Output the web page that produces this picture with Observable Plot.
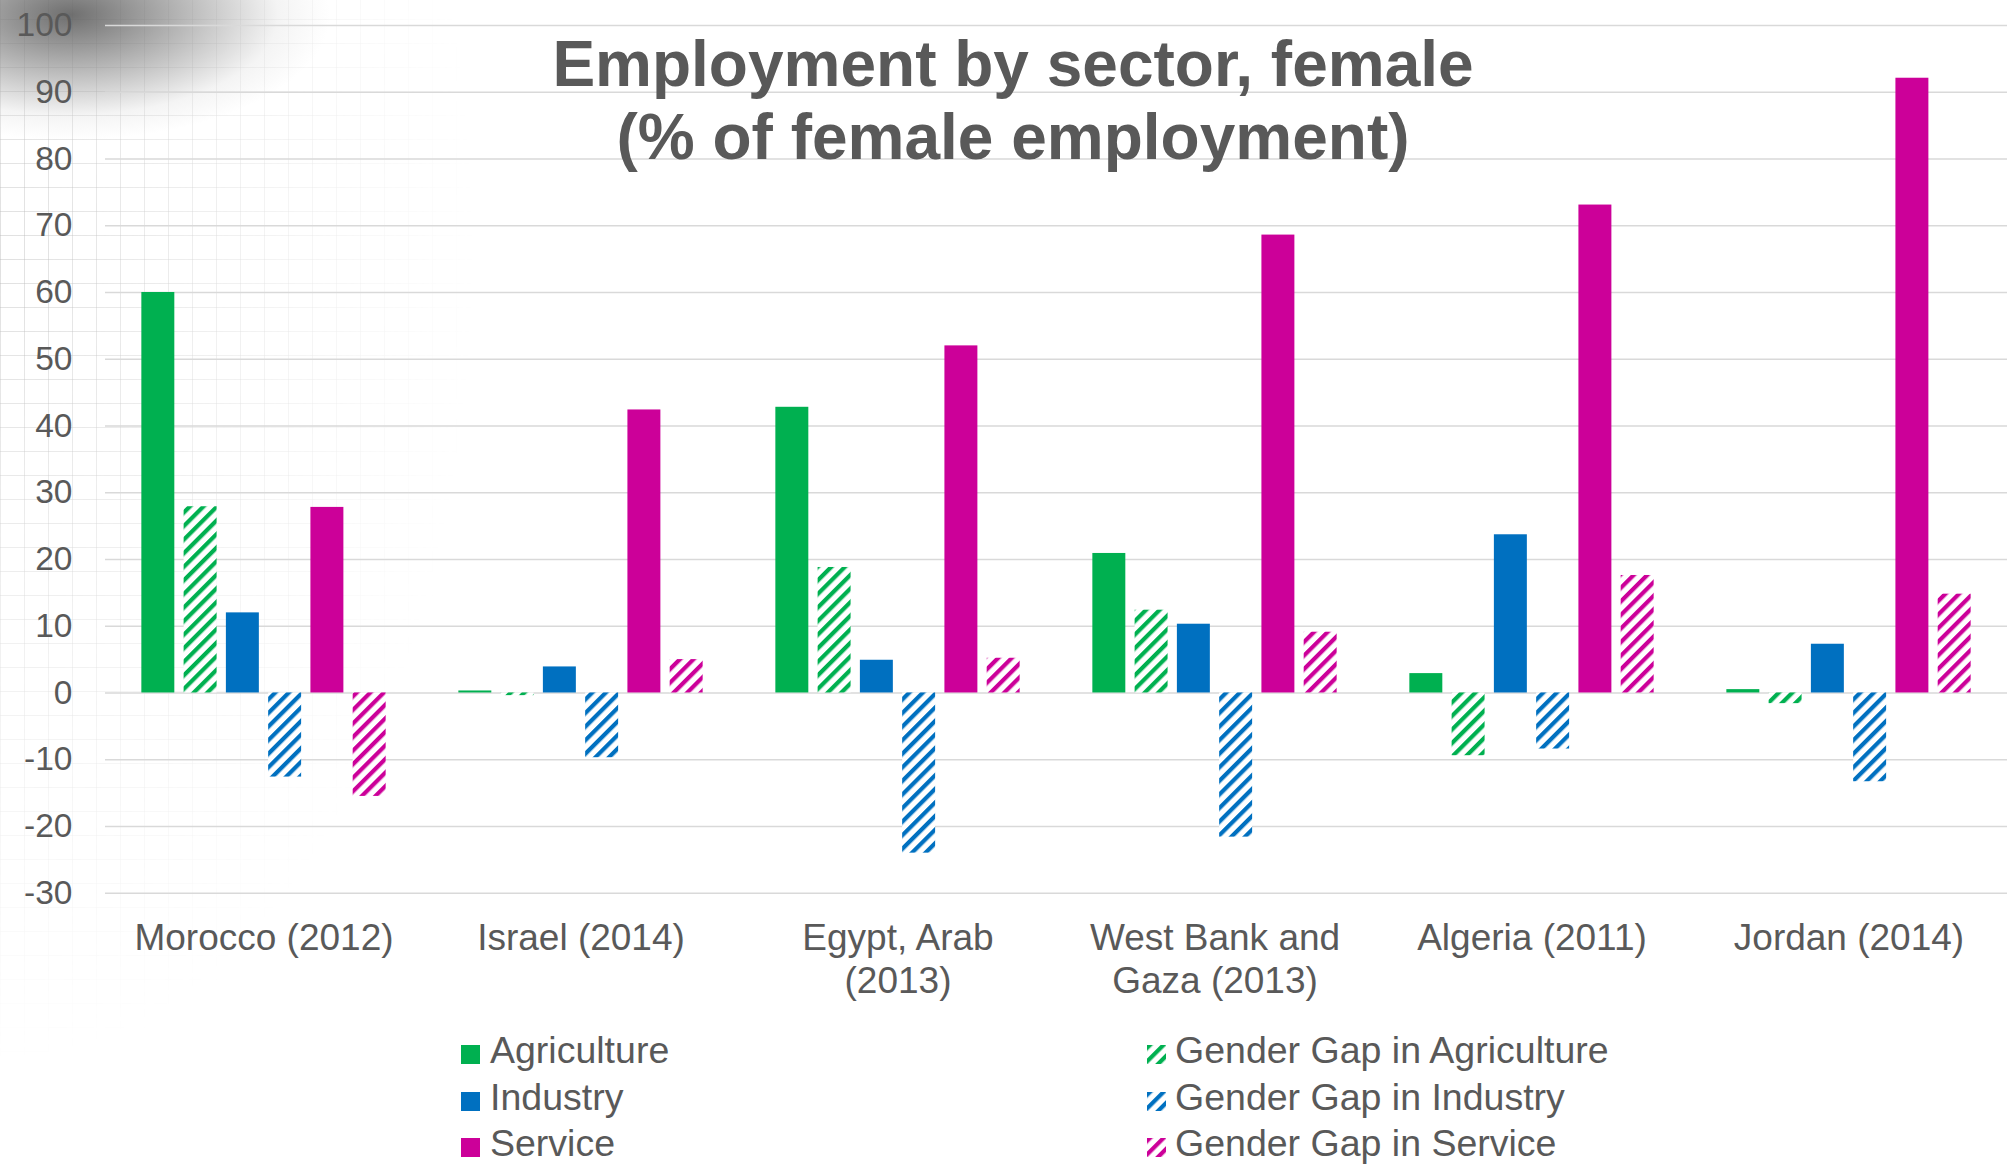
<!DOCTYPE html>
<html>
<head>
<meta charset="utf-8">
<script src="https://cdn.jsdelivr.net/npm/d3@7"></script>
<script src="https://cdn.jsdelivr.net/npm/@observablehq/plot@0.6"></script>
<style>
  html, body { margin: 0; padding: 0; background: #fff; overflow: hidden; }
  #wrap { position: relative; width: 2007px; height: 1166px; overflow: hidden; font-family: "Liberation Sans", Arial, sans-serif; color: #595959; }
  #bg { position: absolute; left: 0; top: 0; width: 2007px; height: 1166px; }
  #grid { position: absolute; left: 0; top: 0; width: 700px; height: 1100px;
    background-image:
      repeating-linear-gradient(90deg, rgba(170,170,170,0.4) 0 1.5px, transparent 1.5px 24px),
      repeating-linear-gradient(0deg, rgba(170,170,170,0.4) 0 1.5px, transparent 1.5px 24px);
    -webkit-mask-image: radial-gradient(ellipse 480px 820px at 0px 250px, rgba(0,0,0,0.9) 0%, rgba(0,0,0,0.4) 50%, transparent 100%);
    mask-image: radial-gradient(ellipse 480px 820px at 0px 250px, rgba(0,0,0,0.9) 0%, rgba(0,0,0,0.4) 50%, transparent 100%);
  }
  #blob { position: absolute; left: 0; top: 0; width: 2007px; height: 1166px;
    background: radial-gradient(ellipse 260px 125px at 70px 15px, rgba(95,95,95,0.9) 0%, rgba(140,140,140,0.6) 45%, rgba(200,200,200,0.2) 80%, transparent 100%);
  }
  #chart { position: absolute; left: 0; top: 0; }
  #title { position: absolute; left: 1013px; top: 27.5px; transform: translateX(-50%); white-space: nowrap; text-align: center;
    font-weight: bold; font-size: 64px; line-height: 73px; color: #595959; }
  .lg-sw { position: absolute; width: 19px; height: 19px; }
  .lg-tx { position: absolute; font-size: 37.5px; line-height: 37.5px; white-space: nowrap; color: #595959; }
</style>
</head>
<body>
<div id="wrap">
  <div id="bg"><div id="grid"></div><div id="blob"></div></div>
  <svg width="0" height="0" style="position:absolute">
    <defs id="patdefs"></defs>
  </svg>
  <div id="chart"></div>
  <div id="title">Employment by sector, female<br>(% of female employment)</div>
  <div id="legend"></div>
</div>
<script>
// ---- data ----
const countries = ["Morocco (2012)", "Israel (2014)", "Egypt, Arab\n(2013)", "West Bank and\nGaza (2013)", "Algeria (2011)", "Jordan (2014)"];
const series = ["Agriculture", "Gender Gap in Agriculture", "Industry", "Gender Gap in Industry", "Service", "Gender Gap in Service"];
const agriculture   = [60.0, 0.3, 42.8, 20.9, 2.9, 0.5];
const gapAgriculture = [27.9, -0.4, 18.8, 12.4, -9.4, -1.6];
const industry      = [12.0, 3.9, 4.9, 10.3, 23.7, 7.3];
const gapIndustry   = [-12.6, -9.7, -24.0, -21.6, -8.4, -13.3];
const service       = [27.8, 42.4, 52.0, 68.6, 73.1, 92.1];
const gapService    = [-15.5, 5.0, 5.2, 9.1, 17.6, 14.8];
const yTicks = [-30, -20, -10, 0, 10, 20, 30, 40, 50, 60, 70, 80, 90, 100];

// ---- styling ----
const baseColors = {green: "#00B050", blue: "#0070C0", magenta: "#CC0099"};
const seriesFill = {
  "Agriculture": baseColors.green,
  "Gender Gap in Agriculture": "url(#hatch-green)",
  "Industry": baseColors.blue,
  "Gender Gap in Industry": "url(#hatch-blue)",
  "Service": baseColors.magenta,
  "Gender Gap in Service": "url(#hatch-magenta)"
};

// hatch patterns
const defs = d3.select("#patdefs");
for (const [name, col] of Object.entries(baseColors)) {
  const p = defs.append("pattern")
    .attr("id", "hatch-" + name)
    .attr("patternUnits", "userSpaceOnUse")
    .attr("width", 9.6).attr("height", 9.6)
    .attr("patternTransform", "rotate(45)");
  p.append("rect").attr("width", 9.6).attr("height", 9.6).attr("fill", "#fff");
  p.append("rect").attr("width", 4.2).attr("height", 9.6).attr("fill", col);
}

const valueArrays = [agriculture, gapAgriculture, industry, gapIndustry, service, gapService];
const rows = [];
countries.forEach((c, i) => series.forEach((s, j) => rows.push({country: c, series: s, value: valueArrays[j][i]})));

const H = 1010;
const chart = Plot.plot({
  width: 2007,
  height: H,
  marginTop: 25,
  marginBottom: H - 892.7,
  marginLeft: 104,
  marginRight: 0,
  style: {background: "transparent", fontFamily: "'Liberation Sans', Arial, sans-serif", color: "#595959", overflow: "visible"},
  fx: {domain: countries, padding: 0, axis: null, label: null},
  x: {domain: series, paddingInner: 0.22, paddingOuter: 0.86, round: false, axis: null},
  y: {domain: [-30, 100], axis: null},
  color: {type: "identity"},
  marks: [
    Plot.gridY(yTicks, {stroke: "#d9d9d9", strokeOpacity: 1, strokeWidth: 1.6}),
    Plot.barY(rows, {fx: "country", x: "series", y: "value", fill: d => seriesFill[d.series]}),
    Plot.axisY(yTicks, {tickSize: 0, tickPadding: 33, fontSize: 33.5, fill: "#595959", tickFormat: d => String(d), label: null}),
    Plot.text(countries, {fx: d => d, text: d => d, frameAnchor: "bottom", lineAnchor: "top", dy: 26.2, fontSize: 37, lineHeight: 1.162, fill: "#595959"})
  ]
});
document.getElementById("chart").appendChild(chart);

// ---- legend ----
const legend = d3.select("#legend");
const legendCols = [
  {swX: 461, txX: 490, items: [series[0], series[2], series[4]]},
  {swX: 1147, txX: 1175, items: [series[1], series[3], series[5]]}
];
const fs = 37.5;
legendCols.forEach(col => {
  col.items.forEach((name, i) => {
    const base = 1064 + 46.5 * i;
    const sw = legend.append("svg").attr("class", "lg-sw")
      .style("left", col.swX + "px").style("top", (base - 19) + "px")
      .attr("width", 19).attr("height", 19);
    sw.append("rect").attr("width", 19).attr("height", 19).attr("fill", seriesFill[name]);
    legend.append("div").attr("class", "lg-tx")
      .style("left", col.txX + "px").style("top", (base - 0.8465 * fs) + "px")
      .text(name);
  });
});
</script>
</body>
</html>
